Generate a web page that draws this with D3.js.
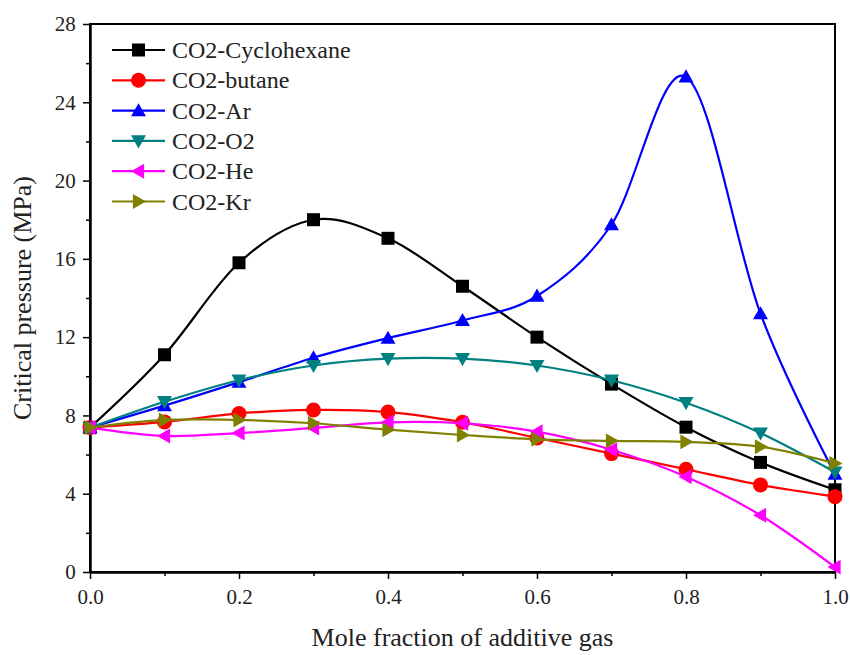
<!DOCTYPE html>
<html>
<head>
<meta charset="utf-8">
<script src="https://cdn.jsdelivr.net/npm/d3@7"></script>
<style>
body { margin: 0; background: #fff; }
svg text { font-family: "Liberation Serif", "Times New Roman", serif; }
</style>
</head>
<body>
<svg id="svg" width="850" height="655"></svg>
<script>
var xVals = [0, 0.1, 0.2, 0.3, 0.4, 0.5, 0.6, 0.7, 0.8, 0.9, 1.0];
var cyclohexane = [7.38, 11.1, 15.8, 18.0, 17.05, 14.6, 12.0, 9.6, 7.4, 5.6, 4.2];
var butane = [7.38, 7.67, 8.1, 8.28, 8.17, 7.65, 6.85, 6.05, 5.25, 4.45, 3.85];
var argon = [7.38, 8.5, 9.7, 10.95, 11.95, 12.85, 14.1, 17.75, 25.3, 13.2, 5.0];
var oxygen = [7.38, 8.7, 9.8, 10.55, 10.9, 10.9, 10.55, 9.8, 8.65, 7.1, 5.1];
var helium = [7.38, 6.95, 7.1, 7.36, 7.65, 7.6, 7.17, 6.25, 4.87, 2.9, 0.25];
var krypton = [7.38, 7.77, 7.77, 7.6, 7.27, 7.0, 6.78, 6.7, 6.65, 6.4, 5.55];

var seriesNames = ['CO2-Cyclohexane', 'CO2-butane', 'CO2-Ar', 'CO2-O2', 'CO2-He', 'CO2-Kr'];
var seriesValues = [cyclohexane, butane, argon, oxygen, helium, krypton];
var seriesColors = ['#000000', '#ff0000', '#0000ff', '#008080', '#ff00ff', '#808000'];
var seriesShapes = ['square', 'circle', 'up', 'down', 'left', 'right'];

var xTicks = [0, 0.2, 0.4, 0.6, 0.8, 1.0];
var yTicks = [0, 4, 8, 12, 16, 20, 24, 28];

var plotLeft = 90, plotRight = 835, plotTop = 24, plotBottom = 572;

var svg = d3.select('svg');

var x = d3.scaleLinear().domain([0, 1]).range([plotLeft, plotRight]);
var y = d3.scaleLinear().domain([0, 28]).range([plotBottom, plotTop]);

// frame
svg.append('rect')
    .attr('x', plotLeft).attr('y', plotTop)
    .attr('width', plotRight - plotLeft).attr('height', plotBottom - plotTop)
    .attr('fill', 'none').attr('stroke', 'black').attr('stroke-width', 2);

// axes
var xAxis = svg.append('g')
    .attr('transform', 'translate(0,' + plotBottom + ')')
    .call(d3.axisBottom(x).tickValues(xTicks).tickFormat(d3.format('.1f')).tickSize(7).tickSizeOuter(0));
svg.append('g')
    .attr('transform', 'translate(0,' + plotBottom + ')')
    .call(d3.axisBottom(x).tickValues(d3.range(0.1, 1, 0.2)).tickFormat('').tickSize(4).tickSizeOuter(0));
var yAxis = svg.append('g')
    .attr('transform', 'translate(' + plotLeft + ',0)')
    .call(d3.axisLeft(y).tickValues(yTicks).tickSize(7).tickSizeOuter(0));
svg.append('g')
    .attr('transform', 'translate(' + plotLeft + ',0)')
    .call(d3.axisLeft(y).tickValues(d3.range(2, 28, 4)).tickFormat('').tickSize(4).tickSizeOuter(0));

svg.selectAll('.domain').attr('stroke-width', 2);
svg.selectAll('.tick line').attr('stroke-width', 1.5);
xAxis.selectAll('text').attr('font-size', 21).attr('font-family', '"Liberation Serif", serif').attr('dy', '1.05em').attr('fill', '#222');
yAxis.selectAll('text').attr('font-size', 21).attr('font-family', '"Liberation Serif", serif').attr('dx', '-0.2em').attr('fill', '#222');

svg.append('text')
    .text('Mole fraction of additive gas')
    .attr('x', (plotLeft + plotRight) / 2).attr('y', 646)
    .attr('text-anchor', 'middle').attr('font-size', 26).attr('fill', '#222');
svg.append('text')
    .text('Critical pressure (MPa)')
    .attr('transform', 'translate(31,' + ((plotTop + plotBottom) / 2) + ') rotate(-90)')
    .attr('text-anchor', 'middle').attr('font-size', 26).attr('fill', '#222');

function markerPath(shape, s) {
    if (shape == 'square') return 'M' + (-s) + ',' + (-s) + 'h' + 2 * s + 'v' + 2 * s + 'h' + (-2 * s) + 'Z';
    if (shape == 'circle') return d3.symbol(d3.symbolCircle, Math.PI * (s + 1) * (s + 1))();
    var h = s * 1.15;
    if (shape == 'up') return 'M0,' + (-h) + 'L' + h + ',' + (h * 0.75) + 'L' + (-h) + ',' + (h * 0.75) + 'Z';
    if (shape == 'down') return 'M0,' + h + 'L' + h + ',' + (-h * 0.75) + 'L' + (-h) + ',' + (-h * 0.75) + 'Z';
    if (shape == 'left') return 'M' + (-h) + ',0L' + (h * 0.75) + ',' + (-h) + 'L' + (h * 0.75) + ',' + h + 'Z';
    return 'M' + h + ',0L' + (-h * 0.75) + ',' + (-h) + 'L' + (-h * 0.75) + ',' + h + 'Z';
}

// smooth spline through the points, like the original plot
var line = d3.line()
    .x(function (d) { return x(d[0]); })
    .y(function (d) { return y(d[1]); })
    .curve(d3.curveCatmullRom.alpha(0));

seriesValues.forEach(function (vals, i) {
    var pts = xVals.map(function (v, j) { return [v, vals[j]]; });
    var g = svg.append('g');
    g.append('path')
        .attr('d', line(pts))
        .attr('fill', 'none')
        .attr('stroke', seriesColors[i])
        .attr('stroke-width', 2.2);
    g.selectAll('path.m')
        .data(pts)
        .enter()
        .append('path')
        .attr('class', 'm')
        .attr('d', markerPath(seriesShapes[i], 6.5))
        .attr('transform', function (d) { return 'translate(' + x(d[0]) + ',' + y(d[1]) + ')'; })
        .attr('fill', seriesColors[i]);
});

// legend
seriesNames.forEach(function (name, i) {
    var ly = 50 + i * 30.3;
    var lg = svg.append('g');
    lg.append('line')
        .attr('x1', 112).attr('x2', 165).attr('y1', ly).attr('y2', ly)
        .attr('stroke', seriesColors[i]).attr('stroke-width', 2.2);
    lg.append('path')
        .attr('d', markerPath(seriesShapes[i], 6.5))
        .attr('transform', 'translate(138.5,' + ly + ')')
        .attr('fill', seriesColors[i]);
    lg.append('text')
        .text(name)
        .attr('x', 172).attr('y', ly + 8)
        .attr('font-size', 24).attr('fill', '#222');
});
</script>
</body>
</html>
